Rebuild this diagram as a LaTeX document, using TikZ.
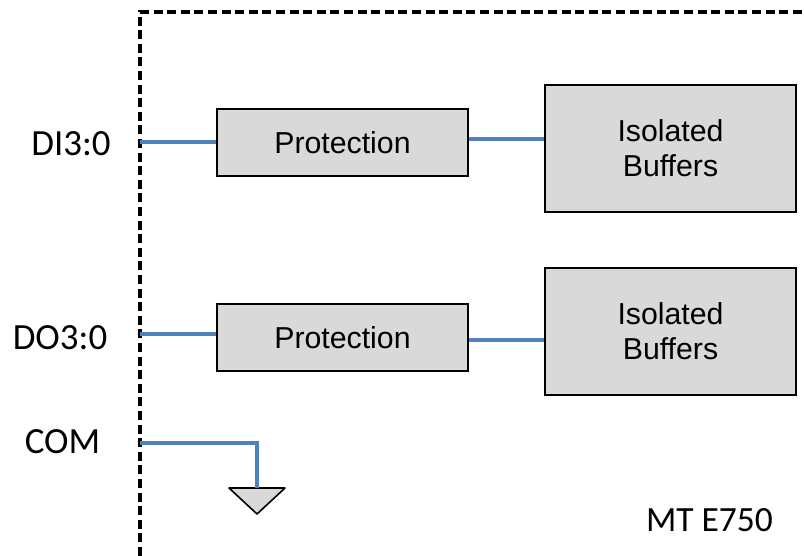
\documentclass[tikz,border=0pt]{standalone}
\usepackage{fontspec}
\setmainfont{Liberation Sans}
\newfontfamily\pinfont{Carlito}
\definecolor{wire}{HTML}{4F81BD}
\definecolor{boxfill}{HTML}{D9D9D9}
\tikzset{x=0.75pt,y=-0.75pt,
 blockbox/.style={draw=black,fill=boxfill,line width=1.6pt,inner sep=0pt,align=center,font=\fontsize{22.7}{26}\selectfont},
 wireline/.style={draw=wire,line width=2.3pt},
 pinlabel/.style={inner sep=0pt,font=\pinfont\fontsize{27.7}{32}\selectfont}}
\begin{document}
\begin{tikzpicture}
\useasboundingbox (0,0) rectangle (804,556);
\draw[line width=2.6pt,dash pattern=on 6.8pt off 3.4pt] (140,556) -- (140,12) -- (804,12);
\node[blockbox,minimum width=188pt,minimum height=50pt] (p1) at (342.5,142.5) {Protection};
\node[blockbox,minimum width=188pt,minimum height=50pt] (p2) at (342.5,337.5) {Protection};
\node[blockbox,minimum width=188pt,minimum height=95pt] (b1) at (670.5,148.5) {Isolated\\Buffers};
\node[blockbox,minimum width=188pt,minimum height=95pt] (b2) at (670.5,331.5) {Isolated\\Buffers};
\coordinate (d1) at (140,142);
\coordinate (d2) at (140,334);
\coordinate (c1) at (140,443);
\coordinate (c2) at (257,443);
\coordinate (g1) at (257,488);
\draw[wireline] (d1) -- (d1 -| p1.west);
\draw[wireline] (d2) -- (d2 -| p2.west);
\draw[wireline] (p1.east |- 0,139) -- (b1.west |- 0,139);
\draw[wireline] (p2.east |- 0,340) -- (b2.west |- 0,340);
\draw[boxfill,fill=boxfill] (229,488) -- (285,488) -- (257,514) -- cycle;
\draw[black,line width=1.2pt,line join=round] (229,488) -- (285,488) -- (257,514) -- cycle;
\draw[wireline] (c1) -- (c2) -- (g1);
\node[pinlabel] (l1) at (71,144) {DI3:0};
\node[pinlabel] (l2) at (60,338) {DO3:0};
\node[pinlabel] (l3) at (62.5,442) {COM};
\node[pinlabel,font=\pinfont\fontsize{26.6}{32}\selectfont] (l4) at (709.5,520) {MT E750};
\end{tikzpicture}
\end{document}
